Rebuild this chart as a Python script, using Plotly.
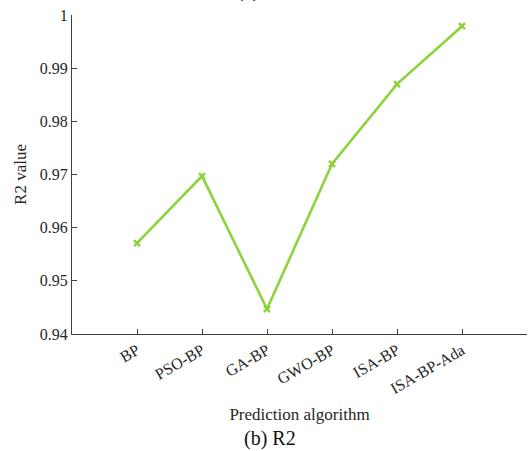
import plotly.graph_objects as go

algorithms = ["BP", "PSO-BP", "GA-BP", "GWO-BP", "ISA-BP", "ISA-BP-Ada"]
positions = [1, 2, 3, 4, 5, 6]
r2_values = [0.9571, 0.9697, 0.9447, 0.9720, 0.9870, 0.9979]
y_ticks = [0.94, 0.95, 0.96, 0.97, 0.98, 0.99, 1.0]
y_tick_text = ["0.94", "0.95", "0.96", "0.97", "0.98", "0.99", "1"]

FONT = "Liberation Serif, Times New Roman, serif"
green = "#8cd33c"

fig = go.Figure()
fig.add_trace(go.Scatter(
    x=positions, y=r2_values, mode="lines+markers",
    line=dict(color=green, width=2.6),
    marker=dict(symbol="x-thin", size=6, color=green, line=dict(color=green, width=2.5)),
    showlegend=False,
))

fig.update_layout(
    width=528, height=451,
    margin=dict(l=72, r=1, t=15, b=117, autoexpand=False),
    paper_bgcolor="white", plot_bgcolor="white",
    font=dict(family=FONT, color="#262626"),
    xaxis=dict(
        range=[0, 7], tickvals=positions, ticktext=algorithms, automargin=False,
        tickangle=-30, ticks="inside", ticklen=5, tickcolor="#404040",
        showline=True, linecolor="#404040", linewidth=1, showgrid=False, zeroline=False,
        tickfont=dict(family=FONT, size=16, color="#262626"),
        title=dict(text="Prediction algorithm", font=dict(family=FONT, size=17, color="#262626"), standoff=12),
    ),
    yaxis=dict(
        range=[0.94, 1.0], tickvals=y_ticks, ticktext=y_tick_text, automargin=False,
        ticks="inside", ticklen=5, tickcolor="#404040",
        showline=True, linecolor="#404040", linewidth=1, showgrid=False, zeroline=False,
        tickfont=dict(family=FONT, size=16, color="#262626"),
        title=dict(text="R2 value", font=dict(family=FONT, size=17, color="#262626"), standoff=8),
    ),
    annotations=[
        dict(text="(b) R2", xref="paper", yref="paper", x=(270 - 72) / 455, y=-(438 - 334) / 319,
             xanchor="center", yanchor="middle", showarrow=False,
             font=dict(family=FONT, size=20, color="#111111")),
        dict(text="(a)", xref="paper", yref="paper", x=(248 - 72) / 455, y=1 + 11 / 319,
             xanchor="center", yanchor="bottom", showarrow=False,
             font=dict(family=FONT, size=20, color="#111111")),
    ],
)

fig.write_html(
    "out.html",
    config={"displayModeBar": False},
    post_script="document.body.style.margin='0';document.body.style.overflow='hidden';",
)
